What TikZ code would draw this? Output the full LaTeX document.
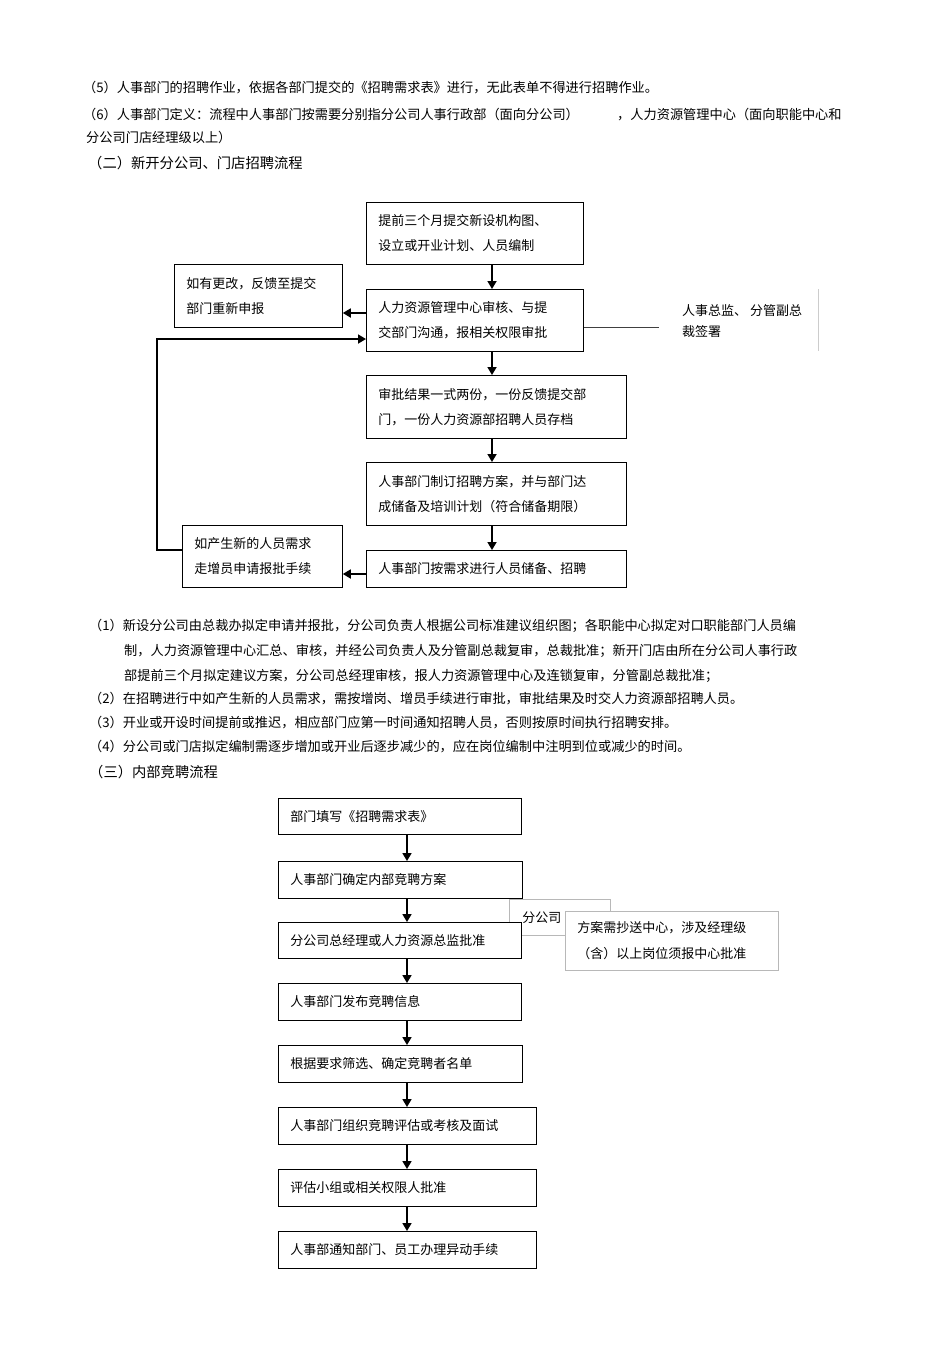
\documentclass[tikz,border=0pt]{standalone}
\usepackage{fontspec}
\newfontfamily\cjk{Noto Sans CJK SC}
\usetikzlibrary{arrows.meta,shadows}
\begin{document}
\begin{tikzpicture}[x=1pt,y=-1pt,
  every node/.style={inner sep=0pt},
  txt/.style={anchor=base west, font=\cjk\fontsize{13.2}{13.2}\selectfont},
  head/.style={anchor=base west, font=\cjk\fontsize{14.3}{14.3}\selectfont},
  box/.style={draw=black, line width=0.8pt, fill=white,
     drop shadow={shadow xshift=1pt, shadow yshift=-1pt, fill=black, opacity=0.85},
     inner xsep=12pt, inner ysep=0pt, align=left, anchor=north west,
     font=\cjk\fontsize{13}{25}\selectfont},
  graybox/.style={draw=black!28, line width=0.6pt, fill=white, inner xsep=12pt,
     inner ysep=0pt, align=left, anchor=north west, font=\cjk\fontsize{13}{26}\selectfont},
  arr/.style={line width=1.7pt, -{Triangle[length=8pt,width=9pt]}},
  link/.style={line width=0.7pt, black!75},
]
\useasboundingbox[fill=white] (0,0) rectangle (950,1345);

% ---------- top text ----------
\node[txt] (t5) at (83,92.5) {（5）人事部门的招聘作业，依据各部门提交的《招聘需求表》进行，无此表单不得进行招聘作业。};
\node[txt] (t6a) at (83,119) {（6）人事部门定义：流程中人事部门按需要分别指分公司人事行政部（面向分公司）};
\node[txt] (t6b) at (617,119) {，人力资源管理中心（面向职能中心和};
\node[txt] (t6c) at (86,142) {分公司门店经理级以上）};
\node[head] (h2) at (88,168) {（二）新开分公司、门店招聘流程};

% ---------- flow 2 ----------
\node[box, text width=193pt, minimum height=62pt] (b1) at (366,202) {提前三个月提交新设机构图、\\设立或开业计划、人员编制};
\node[box, text width=144pt, minimum height=63pt] (bfb) at (174,264) {如有更改，反馈至提交\\部门重新申报};
\node[box, text width=193pt, minimum height=62pt] (b2) at (366,289) {人力资源管理中心审核、与提\\交部门沟通，报相关权限审批};
\node[box, text width=236pt, minimum height=63pt] (b3) at (366,375) {审批结果一式两份，一份反馈提交部\\门，一份人力资源部招聘人员存档};
\node[box, text width=236pt, minimum height=63pt] (b4) at (366,462) {人事部门制订招聘方案，并与部门达\\成储备及培训计划（符合储备期限）};
\node[box, text width=236pt, minimum height=37pt] (b5) at (366,550) {人事部门按需求进行人员储备、招聘};
\node[box, text width=136pt, minimum height=62pt] (bnew) at (182,525) {如产生新的人员需求\\走增员申请报批手续};
\node[anchor=west, align=left, font=\cjk\fontsize{13}{21}\selectfont] (side) at (682,321.5) {人事总监、 分管副总\\裁签署};
\draw[black!20, line width=0.6pt] (818,289) -- (818,351);

\coordinate (ax) at (492,0);
\draw[arr] (b1.south -| ax) -- (b2.north -| ax);
\draw[arr] (b2.south -| ax) -- (b3.north -| ax);
\draw[arr] (b3.south -| ax) -- (b4.north -| ax);
\draw[arr] (b4.south -| ax) -- (b5.north -| ax);
\draw[arr] (b2.west |- 0,313) -- (bfb.east |- 0,313);
\draw[arr] (b5.west |- 0,574) -- (bnew.east |- 0,574);
\coordinate (fbl) at (157,550);
\draw[arr] (bnew.west |- fbl) -- (fbl) -- (157,339) -- (b2.west |- 0,339);
\coordinate (sideend) at (659,327);
\draw[link] (b2.east |- sideend) -- (sideend);

% ---------- notes ----------
\node[txt] (n1a) at (89,630) {（1）新设分公司由总裁办拟定申请并报批，分公司负责人根据公司标准建议组织图；各职能中心拟定对口职能部门人员编};
\node[txt] (n1b) at (124,655) {制，人力资源管理中心汇总、审核，并经公司负责人及分管副总裁复审，总裁批准；新开门店由所在分公司人事行政};
\node[txt] (n1c) at (124,680) {部提前三个月拟定建议方案，分公司总经理审核，报人力资源管理中心及连锁复审，分管副总裁批准；};
\node[txt] (n2) at (89,703) {（2）在招聘进行中如产生新的人员需求，需按增岗、增员手续进行审批，审批结果及时交人力资源部招聘人员。};
\node[txt] (n3) at (89,727) {（3）开业或开设时间提前或推迟，相应部门应第一时间通知招聘人员，否则按原时间执行招聘安排。};
\node[txt] (n4) at (89,751) {（4）分公司或门店拟定编制需逐步增加或开业后逐步减少的，应在岗位编制中注明到位或减少的时间。};
\node[head] (h3) at (89,777) {（三）内部竞聘流程};

% ---------- flow 3 ----------
\node[graybox, inner xsep=13pt, text width=75pt, minimum height=36pt] (fgs) at (509,899) {分公司};
\node[box, text width=219pt, minimum height=36pt] (c1) at (278,798) {部门填写《招聘需求表》};
\node[box, text width=220pt, minimum height=37pt] (c2) at (278,861) {人事部门确定内部竞聘方案};
\node[box, text width=219pt, minimum height=36pt] (c3) at (278,922) {分公司总经理或人力资源总监批准};
\node[box, text width=219pt, minimum height=37pt] (c4) at (278,983) {人事部门发布竞聘信息};
\node[box, text width=220pt, minimum height=37pt] (c5) at (278,1045) {根据要求筛选、确定竞聘者名单};
\node[box, text width=234pt, minimum height=37pt] (c6) at (278,1107) {人事部门组织竞聘评估或考核及面试};
\node[box, text width=234pt, minimum height=37pt] (c7) at (278,1169) {评估小组或相关权限人批准};
\node[box, text width=234pt, minimum height=37pt] (c8) at (278,1231) {人事部通知部门、员工办理异动手续};
\node[graybox, text width=189pt, minimum height=59pt] (fa) at (565,911) {方案需抄送中心，涉及经理级\\（含）以上岗位须报中心批准};

\coordinate (bx) at (407,0);
\draw[arr] (c1.south -| bx) -- (c2.north -| bx);
\draw[arr] (c2.south -| bx) -- (c3.north -| bx);
\draw[arr] (c3.south -| bx) -- (c4.north -| bx);
\draw[arr] (c4.south -| bx) -- (c5.north -| bx);
\draw[arr] (c5.south -| bx) -- (c6.north -| bx);
\draw[arr] (c6.south -| bx) -- (c7.north -| bx);
\draw[arr] (c7.south -| bx) -- (c8.north -| bx);
\end{tikzpicture}
\end{document}
